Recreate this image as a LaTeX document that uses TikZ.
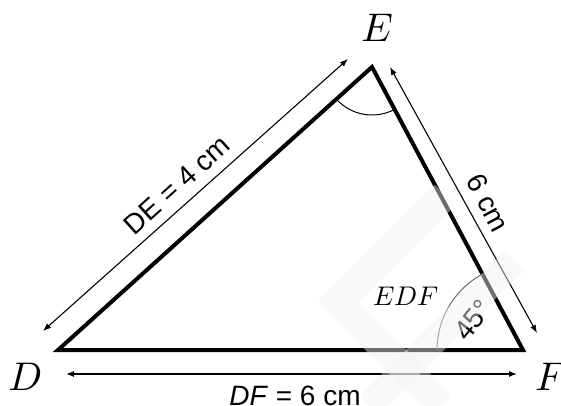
\documentclass[tikz,border=0pt]{standalone}
\usepackage{fontspec}
\usepackage{unicode-math}
\usepackage{xcolor}
\usepackage{tikz}
\usetikzlibrary{arrows.meta}
\newfontfamily\dimfont{Liberation Sans}
\definecolor{tri-arc}{RGB}{105, 105, 105}
\definecolor{wm-gray}{RGB}{242, 242, 242}

\begin{document}
\begin{tikzpicture}[x=1pt, y=1pt,
    vlabel/.style={inner sep=0pt, font=\fontsize{40}{40}\selectfont},
    dimtext/.style={inner sep=0pt, font=\dimfont\fontsize{28}{28}\selectfont},
    dimline/.style={{Latex[length=8pt, width=6pt]}-{Latex[length=8pt, width=6pt]}, line width=1.1pt}]
    \useasboundingbox (0,0) rectangle (561,-406);

    \coordinate (D) at (58,-350);
    \coordinate (E) at (372,-67);
    \coordinate (F) at (523,-350);

    \draw[line width=4pt, line join=miter] (D) -- (E) -- (F) -- cycle;

    \draw[line width=1pt] ([shift={(222:48)}]E) arc[start angle=222, end angle=298.1, radius=48];
    \draw[line width=1pt, color=tri-arc] ([shift={(118.1:86)}]F) arc[start angle=118.1, end angle=180, radius=86];

    \coordinate (deA) at (43,-331);
    \coordinate (deB) at (348,-59);
    \coordinate (efA) at (390,-67);
    \coordinate (efB) at (537,-333);
    \coordinate (dfA) at (66,-374);
    \coordinate (dfB) at (517,-374);

    \draw[dimline] (deA) -- (deB);
    \draw[dimline] (efA) -- (efB);
    \draw[dimline] (dfA) -- (dfB);

    \node[vlabel] (lblE) at (377,-28) {$E$};
    \node[vlabel] (lblD) at (25,-377) {$D$};
    \node[vlabel] (lblF) at (551,-377) {$F$};

    \node[dimtext, rotate=42] (lblDE) at (177,-185) {DE = 4 cm};
    \node[dimtext, rotate=-61.9] (lblEF) at (488,-203) {6 cm};
    \node[dimtext, anchor=base] (lblDF) at (295,-405) {\textit{DF} = 6 cm};
    \node[dimtext, rotate=51] (lblAng) at (473,-320) {45°};
    \node[inner sep=0pt, font=\fontsize{27}{27}\selectfont] (lblEDF) at (406,-296) {$EDF$};

    \draw[wm-gray, line width=29pt, opacity=0.45, line join=miter] (445,-195) -- (338,-302) -- (442,-406);
    \draw[wm-gray, line width=27pt, opacity=0.45] (369,-406) -- (515,-260);
\end{tikzpicture}
\end{document}
